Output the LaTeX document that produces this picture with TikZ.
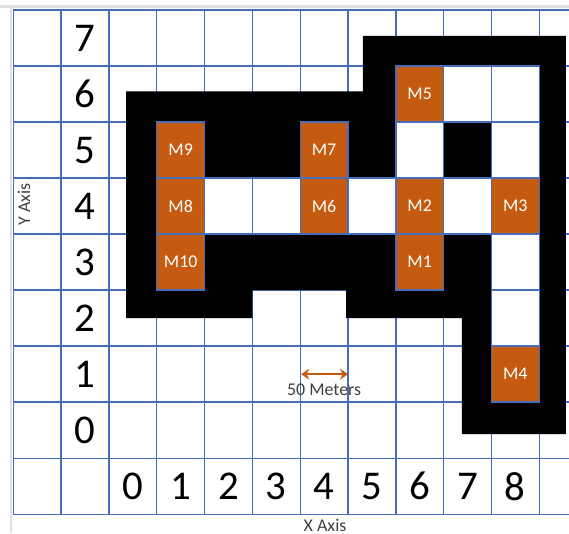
\documentclass[tikz,border=0pt]{standalone}
\usepackage{fontspec}
\setmainfont{Carlito}
\usetikzlibrary{arrows.meta}

\definecolor{gridblue}{RGB}{72,110,186}
\definecolor{mineorange}{RGB}{197,90,17}
\definecolor{axisgray}{RGB}{64,64,64}

\begin{document}
\begin{tikzpicture}[x=0.843cm, y=0.988cm,
  gridline/.style={gridblue, line width=0.7pt},
  mine/.style={draw=gridblue, line width=0.7pt, fill=mineorange, text=white,
    minimum width=0.843cm, minimum height=0.988cm, inner sep=0pt,
    font=\fontsize{9}{11}\selectfont},
  digit/.style={font=\fontsize{20.5}{24}\selectfont},
  axis/.style={font=\fontsize{9}{11}\selectfont, text=axisgray}]
  \useasboundingbox (-2.28,-1.34) rectangle (9.623,8.179);
  % screenshot edge
  \fill[black!12] (-2.28,8.03) rectangle (9.623,8.09);
  \fill[black!12] (-2.07,-1.34) rectangle (-2.02,8.09);
  % grid
  \foreach \u in {-2,...,9}
    \draw[gridline] (\u,-1) -- (\u,8);
  \foreach \w in {-1,...,8}
    \draw[gridline] (-2,\w) -- (9.623,\w);
  % walls
  \fill[black] (0.36,6.55) -| (5.31,7.54) -| (9.56,0.43) -| (7.38,2.5)
    -| (4.96,3) -| (3,2.5) -| (0.36,6.55) -- cycle;
  % open cells inside the walls
  \foreach \c in {(2,4),(3,4),(5,4),(7,4),(6,5),(8,5),(7,6),(8,6),(8,3),(8,2)}
    \draw[gridline, fill=white] \c rectangle ++(1,1);
  % mines
  \node[mine] (m1) at (6.5,3.5) {M1};
  \node[mine] (m2) at (6.5,4.5) {M2};
  \node[mine] (m3) at (8.5,4.5) {M3};
  \node[mine] (m4) at (8.5,1.5) {M4};
  \node[mine] (m5) at (6.5,6.5) {M5};
  \node[mine] (m6) at (4.5,4.5) {M6};
  \node[mine] (m7) at (4.5,5.5) {M7};
  \node[mine] (m8) at (1.5,4.5) {M8};
  \node[mine] (m9) at (1.5,5.5) {M9};
  \node[mine] (m10) at (1.5,3.5) {M10};
  % axes
  \foreach \v in {0,...,8}
    \node[digit] (x\v) at (\v+0.5,-0.5) {\v};
  \foreach \v in {0,...,7}
    \node[digit] (y\v) at (-0.5,\v+0.5) {\v};
  \node[axis, rotate=90] (yaxis) at (-1.78,4.53) {Y Axis};
  \node[axis] (xaxis) at (4.52,-1.2) {X Axis};
  % scale
  \coordinate (sa) at (4.02,1.5);
  \coordinate (sb) at (5,1.5);
  \draw[{Stealth[length=4pt,width=5.5pt]}-{Stealth[length=4pt,width=5.5pt]}, mineorange, line width=1.2pt] (sa) -- (sb);
  \node[axis] (scale) at (4.5,1.23) {50 Meters};
\end{tikzpicture}
\end{document}
